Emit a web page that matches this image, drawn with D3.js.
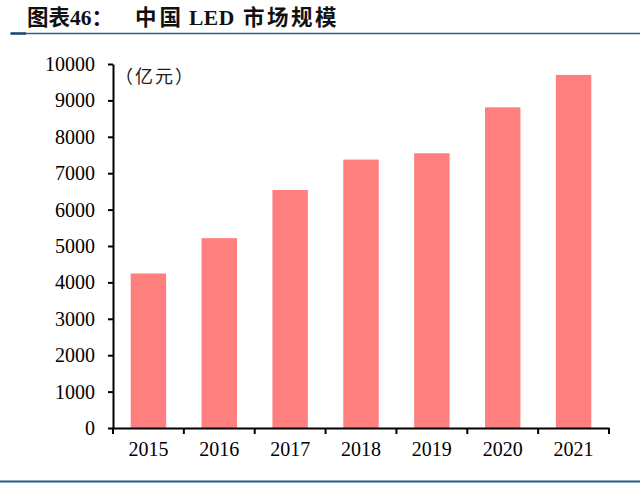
<!DOCTYPE html>
<html>
<head>
<meta charset="utf-8">
<script src="https://cdn.jsdelivr.net/npm/d3@7"></script>
<style>
  html, body { margin: 0; padding: 0; background: #fff; }
  svg { display: block; }
</style>
</head>
<body>
<svg width="640" height="483"></svg>
<script>
// Chart data
const years = ["2015", "2016", "2017", "2018", "2019", "2020", "2021"];
const marketSize = [4245, 5216, 6538, 7374, 7548, 8810, 9700];
const yTicks = [0, 1000, 2000, 3000, 4000, 5000, 6000, 7000, 8000, 9000, 10000];

const titleLabel = "图表46：";
const titleParts = ["中国", "LED", "市场规模"];
const unitLabel = "（亿元）";

const svg = d3.select("svg");
const margin = {top: 64, right: 31, bottom: 55, left: 113};
const width = 640, height = 483;

const numFont = "'Liberation Serif', 'Times New Roman', serif";

const x = d3.scaleBand()
    .domain(years)
    .range([margin.left, width - margin.right])
    .paddingInner(0.5)
    .paddingOuter(0.25);

const y = d3.scaleLinear()
    .domain([0, 10000])
    .range([height - margin.bottom, margin.top]);

// Title
const title = svg.append("text")
    .attr("x", 27)
    .attr("y", 25)
    .attr("font-size", 21.5)
    .attr("font-weight", "bold")
    .attr("fill", "#111")
    .style("font-family", "'Liberation Serif', 'Noto Sans CJK SC', serif");
title.append("tspan").text(titleLabel);
title.append("tspan").attr("x", 135).attr("letter-spacing", 3).text(titleParts[0]);
title.append("tspan").attr("x", 189).attr("letter-spacing", 0.5).text(titleParts[1]);
title.append("tspan").attr("x", 243).attr("letter-spacing", 2.5).text(titleParts[2]);

// Header and footer rules
svg.append("line")
    .attr("x1", 10).attr("x2", width)
    .attr("y1", 33.5).attr("y2", 33.5)
    .attr("stroke", "#2b5f8e")
    .attr("stroke-width", 1.5);
svg.append("line")
    .attr("x1", 11).attr("x2", 26)
    .attr("y1", 33.5).attr("y2", 33.5)
    .attr("stroke", "#1d4a73")
    .attr("stroke-width", 2.5);
svg.append("line")
    .attr("x1", 0).attr("x2", width)
    .attr("y1", 481.5).attr("y2", 481.5)
    .attr("stroke", "#1f5c8b")
    .attr("stroke-width", 2);

// Bars
svg.append("g")
    .selectAll("rect")
    .data(marketSize)
    .join("rect")
    .attr("x", (d, i) => x(years[i]))
    .attr("y", d => y(d))
    .attr("width", x.bandwidth())
    .attr("height", d => y(0) - y(d))
    .attr("fill", "#ff7f7f");

// Y axis
const yAxis = svg.append("g")
    .attr("transform", `translate(${margin.left},0)`)
    .call(d3.axisLeft(y).tickValues(yTicks).tickFormat(d3.format("d"))
        .tickSize(5).tickPadding(13).tickSizeOuter(0));
yAxis.select(".domain").attr("stroke", "#000").attr("stroke-width", 2);
yAxis.selectAll(".tick line").attr("stroke", "#000").attr("stroke-width", 2);
yAxis.selectAll(".tick text")
    .attr("fill", "#000")
    .style("font-family", numFont)
    .style("font-size", "20px");

// X axis: labels centred, tick marks on category boundaries
const xAxis = svg.append("g")
    .attr("transform", `translate(0,${y(0)})`)
    .call(d3.axisBottom(x).tickSize(0).tickPadding(14).tickSizeOuter(0));
xAxis.select(".domain").attr("stroke", "#000").attr("stroke-width", 2);
xAxis.selectAll(".tick text")
    .attr("fill", "#000")
    .style("font-family", numFont)
    .style("font-size", "20px");

const step = x.step();
const bounds = years.map((c, i) => x.range()[0] + i * step);
bounds.push(x.range()[1]);
xAxis.selectAll(".bound")
    .data(bounds)
    .join("line")
    .attr("class", "bound")
    .attr("x1", d => d).attr("x2", d => d)
    .attr("y1", 0).attr("y2", 6)
    .attr("stroke", "#000")
    .attr("stroke-width", 2);

// Unit label
svg.append("text")
    .attr("x", 115)
    .attr("y", 83)
    .attr("font-size", 18)
    .attr("letter-spacing", 2)
    .style("font-family", "'Noto Sans CJK SC', sans-serif")
    .attr("fill", "#222")
    .text(unitLabel);
</script>
</body>
</html>
